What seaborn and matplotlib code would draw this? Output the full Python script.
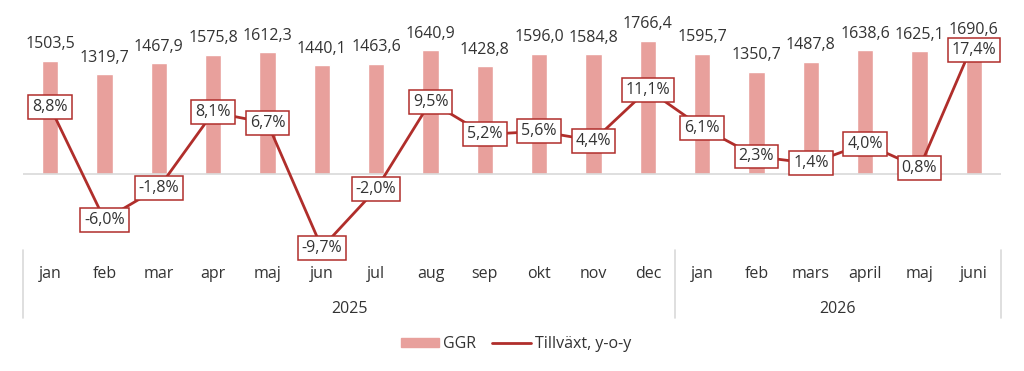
import matplotlib
matplotlib.use("Agg")
import matplotlib.pyplot as plt
import matplotlib.transforms as mtransforms
from matplotlib.patches import Patch
from matplotlib.lines import Line2D
import seaborn as sns
import pandas as pd
import numpy as np

months = ["jan", "feb", "mar", "apr", "maj", "jun", "jul", "aug", "sep", "okt", "nov", "dec",
          "jan", "feb", "mars", "april", "maj", "juni"]
years = ["2025"] * 12 + ["2026"] * 6
ggr = [1503.5, 1319.7, 1467.9, 1575.8, 1612.3, 1440.1, 1463.6, 1640.9, 1428.8, 1596.0, 1584.8, 1766.4,
       1595.7, 1350.7, 1487.8, 1638.6, 1625.1, 1690.6]
growth = [8.8, -6.0, -1.8, 8.1, 6.7, -9.7, -2.0, 9.5, 5.2, 5.6, 4.4, 11.1,
          6.1, 2.3, 1.4, 4.0, 0.8, 17.4]

BAR_C = "#e8a09c"
LINE_C = "#b02e2b"
TXT_C = "#333333"
GRID_C = "#d9d9d9"
FS = 11.5

sns.set_theme(style="white")
plt.rcParams["font.family"] = ["Open Sans", "DejaVu Sans"]

df = pd.DataFrame({"key": [f"{y}-{m}" for y, m in zip(years, months)],
                   "pos": np.arange(len(months)),
                   "ggr": ggr, "growth": growth})

W, H = 1024, 371
fig = plt.figure(figsize=(W / 100, H / 100), dpi=100)
top_px, bot_px = 10, 258
ax = fig.add_axes([23 / W, 1 - bot_px / H, (1001 - 23) / W, (bot_px - top_px) / H])

sns.barplot(data=df, x="key", y="ggr", order=df["key"], color=BAR_C, width=0.3,
            saturation=1, ax=ax)
zero_px = 174
bar_scale = (zero_px - 40.7) / 1766.4
ax.set_ylim(-(bot_px - zero_px) / bar_scale, (zero_px - top_px) / bar_scale)
ax.set_xlim(-0.5, len(months) - 0.5)

for i, v in enumerate(ggr):
    ax.annotate(f"{v:.1f}".replace(".", ","), (i, v), xytext=(0, 12), textcoords="offset points",
                ha="center", va="center", fontsize=FS, color=TXT_C)

ax.axhline(0, color=GRID_C, lw=1.2, zorder=1)

ax2 = ax.twinx()
line_scale = 7.61
ax2.set_ylim(-(bot_px - zero_px) / line_scale, (zero_px - top_px) / line_scale)
sns.lineplot(data=df, x="pos", y="growth", color=LINE_C, lw=2, ax=ax2)
ax2.set_xlim(-0.5, len(months) - 0.5)

for i, v in enumerate(growth):
    dy = -6 if i == len(growth) - 1 else 0
    ax2.annotate(f"{v:.1f}%".replace(".", ","), (i, v), xytext=(0, dy), textcoords="offset points",
                 ha="center", va="center", fontsize=FS, color=TXT_C,
                 bbox=dict(boxstyle="square,pad=0.25", fc="white", ec=LINE_C, lw=1.1))

for a in (ax, ax2):
    for s in a.spines.values():
        s.set_visible(False)
    a.set_yticks([])
    a.set_ylabel("")
    a.set_xlabel("")
ax2.set_xticks([])

ax.set_xticks(range(len(months)))
ax.set_xticklabels(months, fontsize=FS, color=TXT_C)
ax.tick_params(axis="x", length=0, pad=6)

trans = mtransforms.blended_transform_factory(ax.transData, fig.transFigure)
for xs in (-0.5, 11.5, 17.5):
    fig.add_artist(Line2D([xs, xs], [1 - 250 / H, 1 - 318 / H], transform=trans,
                          color=GRID_C, lw=1.2))
for label, center in (("2025", 5.5), ("2026", 14.5)):
    fig.text(center, 1 - 309 / H, label, transform=trans, ha="center", va="center",
             fontsize=FS, color=TXT_C)

handles = [Patch(color=BAR_C, label="GGR"), Line2D([], [], color=LINE_C, lw=2, label="Tillväxt, y-o-y")]
fig.legend(handles=handles, loc="center", bbox_to_anchor=(516 / W, 1 - 344 / H), ncol=2, frameon=False,
           fontsize=FS, handlelength=2.4, handleheight=0.5, columnspacing=1.0, handletextpad=0.25,
           labelcolor=TXT_C)

fig.savefig("out.png", dpi=100, facecolor="white")
